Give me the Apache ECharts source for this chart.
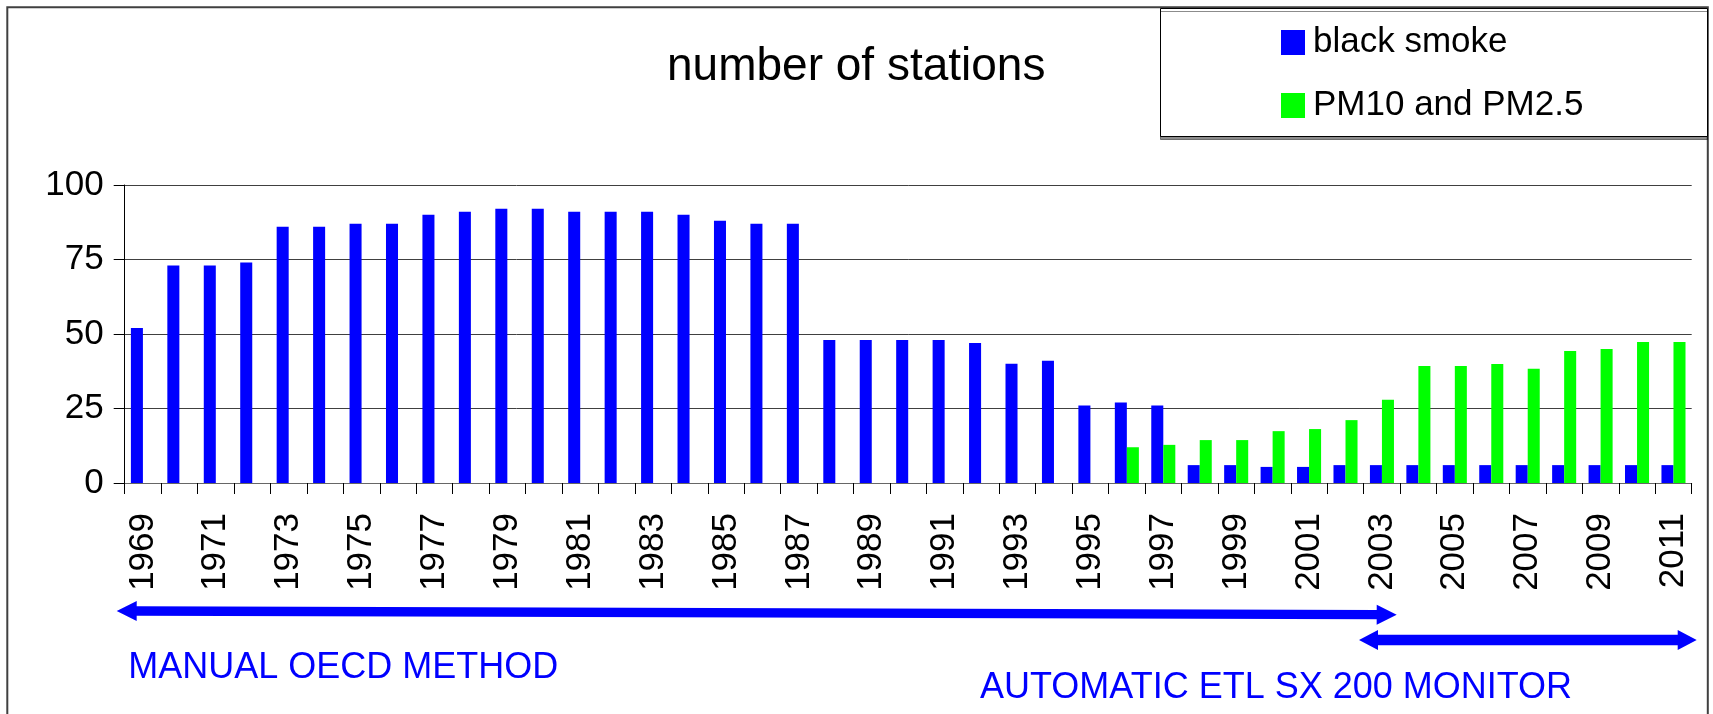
<!DOCTYPE html>
<html><head><meta charset="utf-8">
<script src="https://cdn.jsdelivr.net/npm/echarts@6/dist/echarts.min.js"></script>
<style>html,body{margin:0;padding:0;background:#fff}#c{width:1713px;height:714px}</style>
</head><body><div id="c"></div>
<script>
const years = ['1969','1970','1971','1972','1973','1974','1975','1976','1977','1978','1979','1980','1981','1982','1983','1984','1985','1986','1987','1988','1989','1990','1991','1992','1993','1994','1995','1996','1997','1998','1999','2000','2001','2002','2003','2004','2005','2006','2007','2008','2009','2010','2011'];
const blackSmoke = [52,73,73,74,86,86,87,87,90,91,92,92,91,91,91,90,88,87,87,48,48,48,48,47,40,41,26,27,26,6,6,5.4,5.4,6,6,6,6,6,6,6,6,6,6];
const pm10pm25 = [null,null,null,null,null,null,null,null,null,null,null,null,null,null,null,null,null,null,null,null,null,null,null,null,null,null,null,12,12.8,14.4,14.4,17.4,18.1,21.1,27.9,39.3,39.3,39.9,38.3,44.3,45,47.3,47.3];
const seriesNames = ['black smoke','PM10 and PM2.5'];
const yMin = 0, yMax = 100, yStep = 25;
const titleText = 'number of stations';
const noteTexts = ['MANUAL OECD METHOD','AUTOMATIC ETL SX 200 MONITOR'];

const FONT = "'Liberation Sans', Arial, sans-serif";
const BLUE = '#0000FF', GREEN = '#00FF00';

function arrowPts(x1,y1,x2,y2,sw,hl,hw){
  const dx=x2-x1, dy=y2-y1, L=Math.hypot(dx,dy), ux=dx/L, uy=dy/L, nx=-uy, ny=ux;
  const p=(t,o)=>[x1+ux*t+nx*o, y1+uy*t+ny*o];
  return [p(0,0),p(hl,hw),p(hl,sw),p(L-hl,sw),p(L-hl,hw),p(L,0),p(L-hl,-hw),p(L-hl,-sw),p(hl,-sw),p(hl,-hw)];
}

const chart = echarts.init(document.getElementById('c'), null, {renderer:'canvas'});
chart.setOption({
  animation:false,
  backgroundColor:'#fff',
  textStyle:{fontFamily:FONT},
  title:{text:titleText,left:667,top:44,padding:0,textStyle:{fontFamily:FONT,fontSize:46,fontWeight:'normal',color:'#000'}},
  legend:{
    data:seriesNames, orient:'vertical', left:1281, top:25, padding:0,
    itemWidth:24, itemHeight:25, itemGap:28, icon:'rect', z:10,
    textStyle:{fontFamily:FONT,fontSize:35,color:'#000',padding:[0,0,4,3]}
  },
  grid:{left:124.7,right:21.3,top:185,bottom:231,containLabel:false},
  xAxis:{
    type:'category', data:years, boundaryGap:true,
    axisLine:{lineStyle:{color:'#666',width:1}},
    axisTick:{show:true,interval:0,length:11,lineStyle:{color:'#000'}},
    axisLabel:{interval:1,rotate:90,margin:30,fontSize:35,color:'#000',fontFamily:FONT}
  },
  yAxis:{
    type:'value', min:yMin, max:yMax, interval:yStep,
    axisLine:{show:true,lineStyle:{color:'#000'}},
    axisTick:{show:true,length:11,lineStyle:{color:'#000'}},
    axisLabel:{margin:21,fontSize:35,color:'#000',fontFamily:FONT},
    splitLine:{show:true,lineStyle:{color:'#404040',width:1}}
  },
  series:[
    {name:seriesNames[0],type:'bar',data:blackSmoke,itemStyle:{color:BLUE},barGap:'0%',barCategoryGap:'34%'},
    {name:seriesNames[1],type:'bar',data:pm10pm25,itemStyle:{color:GREEN},barGap:'0%',barCategoryGap:'34%'}
  ],
  graphic:[
    {type:'rect',z:0,silent:true,shape:{x:7.3,y:7.3,width:1700.5,height:800},style:{fill:'none',stroke:'#404040',lineWidth:2}},
    {type:'rect',z:1,silent:true,shape:{x:1160.5,y:8.5,width:547,height:128},style:{fill:'#fff',stroke:'#000',lineWidth:1,shadowColor:'rgba(0,0,0,0.45)',shadowOffsetX:0,shadowOffsetY:3,shadowBlur:0}},
    {type:'polygon',z:5,silent:true,shape:{points:arrowPts(116.7,611,1396.7,614.7,4.7,20,10)},style:{fill:BLUE}},
    {type:'polygon',z:5,silent:true,shape:{points:arrowPts(1359,640,1696.7,640,5.3,19,10)},style:{fill:BLUE}},
    {type:'text',z:5,x:128.2,y:668.2,style:{text:noteTexts[0],fill:BLUE,font:"36px "+FONT,textAlign:'left',textVerticalAlign:'middle'}},
    {type:'text',z:5,x:980,y:688.2,style:{text:noteTexts[1],fill:BLUE,font:"36px "+FONT,textAlign:'left',textVerticalAlign:'middle'}}
  ]
});
</script></body></html>
